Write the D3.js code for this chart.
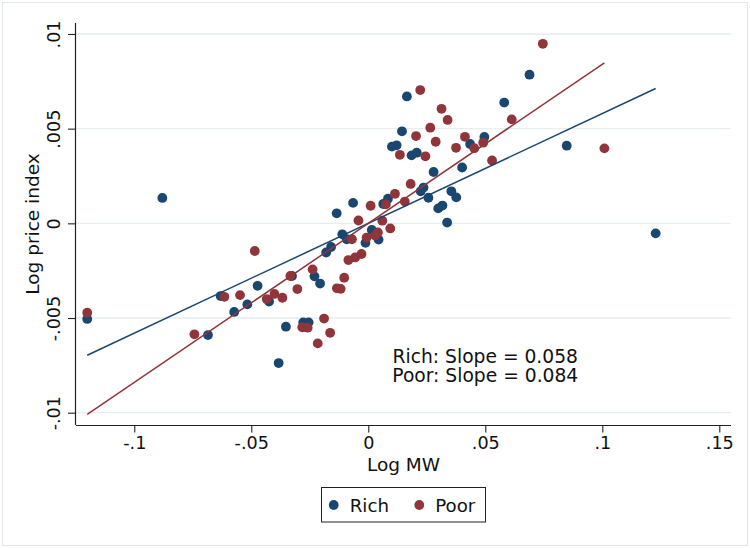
<!DOCTYPE html>
<html>
<head>
<meta charset="utf-8">
<script src="https://cdn.jsdelivr.net/npm/d3@7/dist/d3.min.js"></script>
<style>
  html, body { margin: 0; padding: 0; background: #fff; }
  svg { display: block; font-family: "DejaVu Sans", sans-serif; }
</style>
</head>
<body>
<svg id="chart" width="750" height="548"></svg>
<script>
// Log MW (x) and log price index (y) by group
const richX = [-0.1201, -0.0880, -0.0631, -0.0573, -0.0685, -0.0517, -0.0473, -0.0424, -0.0326, -0.0352,
  -0.0383, -0.0278, -0.0255, -0.0230, -0.0206, -0.0180, -0.0159, -0.0135, -0.0111, -0.0092,
  -0.0065, -0.0012, 0.0015, 0.0044, 0.0064, 0.0084, 0.0165, 0.0144, 0.0101, 0.0121,
  0.0185, 0.0207, 0.0435, 0.0496, 0.0401, 0.0279, 0.0236, 0.0224, 0.0257, 0.0355,
  0.0376, 0.0299, 0.0317, 0.0337, 0.0581, 0.0689, 0.0848, 0.1228];
const richY = [-0.00505, 0.00134, -0.00384, -0.00468, -0.00590, -0.00428, -0.00330, -0.00413, -0.00278, -0.00546,
  -0.00738, -0.00523, -0.00523, -0.00280, -0.00318, -0.00154, -0.00125, 0.00053, -0.00058, -0.00084,
  0.00108, -0.00103, -0.00035, -0.00086, 0.00102, 0.00130, 0.00670, 0.00486, 0.00405, 0.00412,
  0.00359, 0.00373, 0.00419, 0.00456, 0.00295, 0.00271, 0.00189, 0.00169, 0.00135, 0.00169,
  0.00137, 0.00079, 0.00094, 0.00004, 0.00638, 0.00785, 0.00410, -0.00053];

const poorX = [-0.1201, -0.0615, -0.0548, -0.0743, -0.0485, -0.0434, -0.0401, -0.0367, -0.0333, -0.0303,
  -0.0282, -0.0259, -0.0189, -0.0163, -0.0216, -0.0238, -0.0134, -0.0118, -0.0103, -0.0085,
  -0.0056, -0.0029, -0.0070, -0.0042, -0.0007, 0.0029, 0.0041, 0.0010, 0.0075, 0.0060,
  0.0094, 0.0156, 0.0114, 0.0181, 0.0135, 0.0244, 0.0204, 0.0265, 0.0288, 0.0222,
  0.0313, 0.0339, 0.0375, 0.0413, 0.0453, 0.0491, 0.0529, 0.0613, 0.0746, 0.1009];
const poorY = [-0.00472, -0.00388, -0.00379, -0.00586, -0.00146, -0.00400, -0.00373, -0.00393, -0.00278, -0.00347,
  -0.00549, -0.00551, -0.00503, -0.00578, -0.00634, -0.00243, -0.00343, -0.00346, -0.00287, -0.00194,
  -0.00180, -0.00162, -0.00084, 0.00015, -0.00075, -0.00065, -0.00048, 0.00093, 0.00100, 0.00014,
  -0.00027, 0.00115, 0.00156, 0.00208, 0.00362, 0.00354, 0.00461, 0.00505, 0.00431, 0.00704,
  0.00605, 0.00546, 0.00399, 0.00457, 0.00397, 0.00426, 0.00332, 0.00549, 0.00948, 0.00396];

// Linear fits
const groupNames = ["Rich", "Poor"];
const fitSlopes = [0.058, 0.084];
const fitIntercepts = [0.0, 0.0];

// Axis ticks
const xTickValues = [-0.1, -0.05, 0, 0.05, 0.1, 0.15];
const xTickLabels = ["-.1", "-.05", "0", ".05", ".1", ".15"];
const yTickValues = [-0.01, -0.005, 0, 0.005, 0.01];
const yTickLabels = ["-.01", "-.005", "0", ".005", ".01"];

const colors = ["#1a476f", "#90353b"];

const svg = d3.select("#chart");
const W = 750, H = 548;
const plot = { left: 76, right: 731, top: 23, bottom: 425 };

const x = d3.scaleLinear().domain([-0.1249, 0.155]).range([plot.left, plot.right]);
const y = d3.scaleLinear().domain([-0.01065, 0.01058]).range([plot.bottom, plot.top]);

// Graph region outline
svg.append("rect")
  .attr("x", 2.5).attr("y", 2.5).attr("width", W - 5).attr("height", H - 5)
  .attr("fill", "#fff").attr("stroke", "#e1e6e8").attr("stroke-width", 1);

// Horizontal gridlines
svg.append("g").selectAll("line").data(yTickValues).join("line")
  .attr("x1", plot.left).attr("x2", plot.right)
  .attr("y1", d => y(d)).attr("y2", d => y(d))
  .attr("stroke", "#e6eef0").attr("stroke-width", 1.3);

// Axes
const xAxis = d3.axisBottom(x).tickValues(xTickValues)
  .tickFormat((d, i) => xTickLabels[i]).tickSize(7.5).tickPadding(4).tickSizeOuter(0);
const gx = svg.append("g").attr("transform", `translate(0,${plot.bottom})`).call(xAxis);
gx.select(".domain").attr("d", `M${plot.left},0.5H${plot.right}`).attr("stroke", "#222").attr("stroke-width", 1.2);
gx.selectAll(".tick line").attr("stroke", "#222").attr("stroke-width", 1.1);
gx.selectAll(".tick text").attr("font-size", 17.6).attr("fill", "#111")
  .attr("font-family", "DejaVu Sans").attr("dy", null).attr("y", 24);

const yAxis = d3.axisLeft(y).tickValues(yTickValues)
  .tickFormat((d, i) => yTickLabels[i]).tickSize(8).tickSizeOuter(0);
const gy = svg.append("g").attr("transform", `translate(${plot.left},0)`).call(yAxis);
gy.select(".domain").attr("d", `M-0.5,${plot.top}V${plot.bottom}`).attr("stroke", "#222").attr("stroke-width", 1.2);
gy.selectAll(".tick line").attr("stroke", "#222").attr("stroke-width", 1.1);
gy.selectAll(".tick text")
  .attr("font-size", 17.6).attr("fill", "#111").attr("font-family", "DejaVu Sans")
  .attr("x", null).attr("dy", null)
  .attr("text-anchor", "middle")
  .attr("transform", "translate(-16,0) rotate(-90)");

// Axis titles
svg.append("text")
  .attr("x", (plot.left + plot.right) / 2).attr("y", 471)
  .attr("text-anchor", "middle").attr("font-size", 18.5).attr("fill", "#111")
  .text("Log MW");
svg.append("text")
  .attr("transform", `translate(39,${(plot.top + plot.bottom) / 2}) rotate(-90)`)
  .attr("text-anchor", "middle").attr("font-size", 18.5).attr("fill", "#111")
  .text("Log price index");

// Scatter points
const groups = [
  { x: richX, y: richY },
  { x: poorX, y: poorY }
];
groups.forEach((g, gi) => {
  svg.append("g").selectAll("circle")
    .data(g.x.map((v, i) => [v, g.y[i]]))
    .join("circle")
    .attr("cx", d => x(d[0])).attr("cy", d => y(d[1]))
    .attr("r", 4.9)
    .attr("fill", colors[gi]);
});

// Fitted lines over each group's x range
groups.forEach((g, gi) => {
  const [x0, x1] = d3.extent(g.x);
  const fit = v => fitIntercepts[gi] + fitSlopes[gi] * v;
  svg.append("line")
    .attr("x1", x(x0)).attr("y1", y(fit(x0)))
    .attr("x2", x(x1)).attr("y2", y(fit(x1)))
    .attr("stroke", colors[gi]).attr("stroke-width", 1.5);
});

// Slope annotation
const note = svg.append("text")
  .attr("text-anchor", "middle").attr("font-size", 18.7).attr("fill", "#111");
groupNames.forEach((name, gi) => {
  note.append("tspan")
    .attr("x", x(0.05))
    .attr("y", y(-0.0075) + (gi === 0 ? -2.5 : 16.5))
    .text(`${name}: Slope = ${fitSlopes[gi].toFixed(3)}`);
});

// Legend
const legend = svg.append("g");
legend.append("rect")
  .attr("x", 321.5).attr("y", 487.5).attr("width", 164).attr("height", 34.5)
  .attr("fill", "#fff").attr("stroke", "#222").attr("stroke-width", 1);
const legendItemX = [333.7, 419.3];
groupNames.forEach((name, gi) => {
  legend.append("circle")
    .attr("cx", legendItemX[gi]).attr("cy", 505).attr("r", 4.9).attr("fill", colors[gi]);
  legend.append("text")
    .attr("x", legendItemX[gi] + 16).attr("y", 511.5)
    .attr("font-size", 18.2).attr("fill", "#111")
    .text(name);
});
</script>
</body>
</html>
